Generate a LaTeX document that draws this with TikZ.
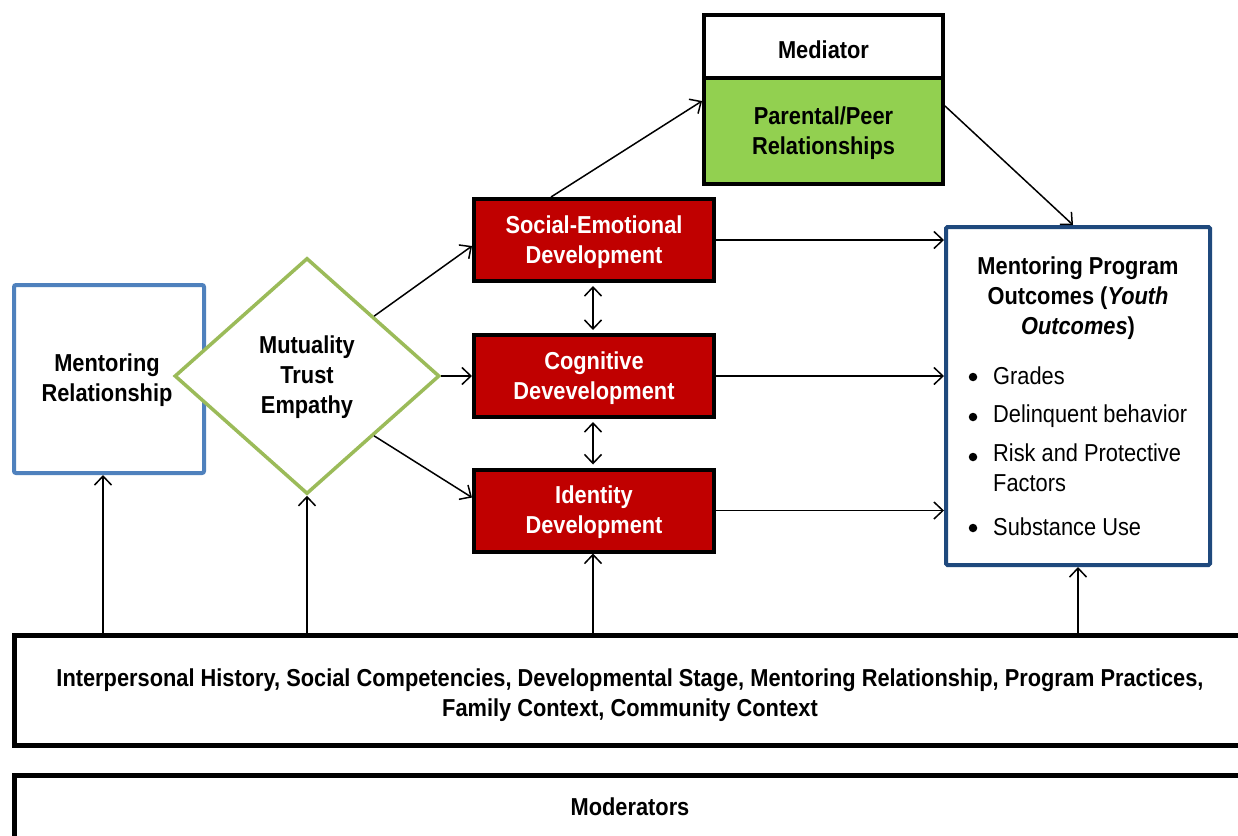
\documentclass[tikz,border=0pt]{standalone}
\usepackage{fontspec}
\setmainfont{Liberation Sans}[FakeStretch=0.89]
\usetikzlibrary{arrows.meta,shapes.geometric,calc}
\definecolor{devred}{HTML}{C00000}
\definecolor{medgreen}{HTML}{92D050}
\definecolor{mrblue}{HTML}{4F81BD}
\definecolor{diagreen}{HTML}{9BBB59}
\definecolor{outblue}{HTML}{1F497D}
\tikzset{
  txt/.style={font=\fontsize{24.5}{30}\selectfont\bfseries, align=center, inner sep=0pt},
  plain/.style={font=\fontsize{24.5}{30}\selectfont, align=left, inner sep=0pt, anchor=west},
  bul/.style={circle, fill=black, minimum size=8.5pt, inner sep=0pt},
  redbox/.style={txt, draw=black, fill=devred, text=white, line width=4pt, minimum width=240pt, minimum height=82pt},
  blackbox/.style={txt, draw=black, line width=4pt},
  conn/.style={line width=1.5pt, -{Straight Barb[length=9pt,width=17pt,line width=1.5pt]}},
  dconn/.style={line width=1.5pt, {Straight Barb[length=9pt,width=17pt,line width=1.5pt]}-{Straight Barb[length=9pt,width=17pt,line width=1.5pt]}},
}
\begin{document}
\begin{tikzpicture}[x=1pt,y=-1pt]
\useasboundingbox (0,0) rectangle (1238,835);
\clip (0,0) rectangle (1238,835);
\fill[white] (0,0) rectangle (1238,835);

% mediator
\node[blackbox, fill=white, minimum width=239pt, minimum height=63pt] (medt) at (823.5,46.5) {};
\node[txt] (medtxt) at (823.5,50) {Mediator};
\node[blackbox, fill=medgreen, minimum width=239pt, minimum height=106pt] (medg) at (823.5,131) {};
\node[txt] (medgt) at (823.5,133) {Parental/Peer\\Relationships};

% development boxes
\node[redbox] (se) at (594,240) {};
\node[txt, text=white] (set) at (594,242) {Social-Emotional\\Development};
\node[redbox] (cog) at (594,376) {};
\node[txt, text=white] (cogt) at (594,378) {Cognitive\\Devevelopment};
\node[redbox] (id) at (594,510.5) {};
\node[txt, text=white] (idt) at (594,512.5) {Identity\\Development};

% mentoring relationship
\node[draw=mrblue, line width=4pt, rounded corners=2pt, minimum width=190pt, minimum height=188pt] (mr) at (109,379) {};
\node[txt] (mrt) at (107,380) {Mentoring\\Relationship};

% diamond
\node[txt, diamond, draw=diagreen, fill=white, line width=3.5pt, minimum width=265pt, minimum height=236pt] (dia) at (307,376) {};
\node[txt] (diat) at (307,377) {Mutuality\\Trust\\Empathy};

% outcomes
\node[draw=outblue, line width=4pt, rounded corners=1.5pt, minimum width=264pt, minimum height=338pt, inner sep=0pt] (out) at (1078,396) {};
\node[txt] (outt) at (1078,298) {Mentoring Program\\Outcomes (\textit{Youth}\\\textit{Outcomes})};
\node[bul] (b1) at (973,377) {};
\node[bul] (b2) at (973,417) {};
\node[bul] (b3) at (973,457) {};
\node[bul] (b4) at (973,528) {};
\node[plain] (g1) at (993,376) {Grades};
\node[plain] (g2) at (993,416) {Delinquent behavior};
\node[plain, anchor=north west] (g3) at (993,444) {Risk and Protective\\Factors};
\node[plain] (g4) at (993,527) {Substance Use};

% bottom boxes
\node[draw=black, line width=5pt, minimum width=1231pt, minimum height=110pt, inner sep=0pt] (bot) at (630,690.5) {};
\node[txt] (bott) at (630,695) {Interpersonal History, Social Competencies, Developmental Stage, Mentoring Relationship, Program Practices,\\Family Context, Community Context};
\node[draw=black, line width=5pt, minimum width=1231pt, minimum height=70pt, inner sep=0pt] (mod) at (630,810) {};
\node[txt] (modt) at (630,807) {Moderators};

% connectors
\draw[conn] (dia.north east) -- ([yshift=-6pt]se.west);
\draw[conn] (dia.east) -- (cog.west);
\draw[conn] (dia.south east) -- ([yshift=13pt]id.west);
\draw[conn] ([xshift=-43pt]se.north) -- ([yshift=30pt]medg.west);
\draw[conn] ([yshift=25pt]medg.east) -- ([xshift=-5pt]out.north);
\draw[conn] (se.east) -- (out.west |- se.east);
\draw[conn] (cog.east) -- (out.west |- cog.east);
\draw[conn] (id.east) -- (out.west |- id.east);
\draw[dconn, shorten <=3pt, shorten >=3pt] ([xshift=-1pt]se.south) -- ([xshift=-1pt]cog.north);
\draw[dconn, shorten <=3pt, shorten >=3pt] ([xshift=-1pt]cog.south) -- ([xshift=-1pt]id.north);
\draw[conn] (bot.north -| 103,0) -- ([xshift=-6pt]mr.south);
\draw[conn] (bot.north -| dia.south) -- (dia.south);
\draw[conn] (bot.north -| 593,0) -- ([xshift=-1pt]id.south);
\draw[conn] (bot.north -| out.south) -- (out.south);
\end{tikzpicture}
\end{document}
